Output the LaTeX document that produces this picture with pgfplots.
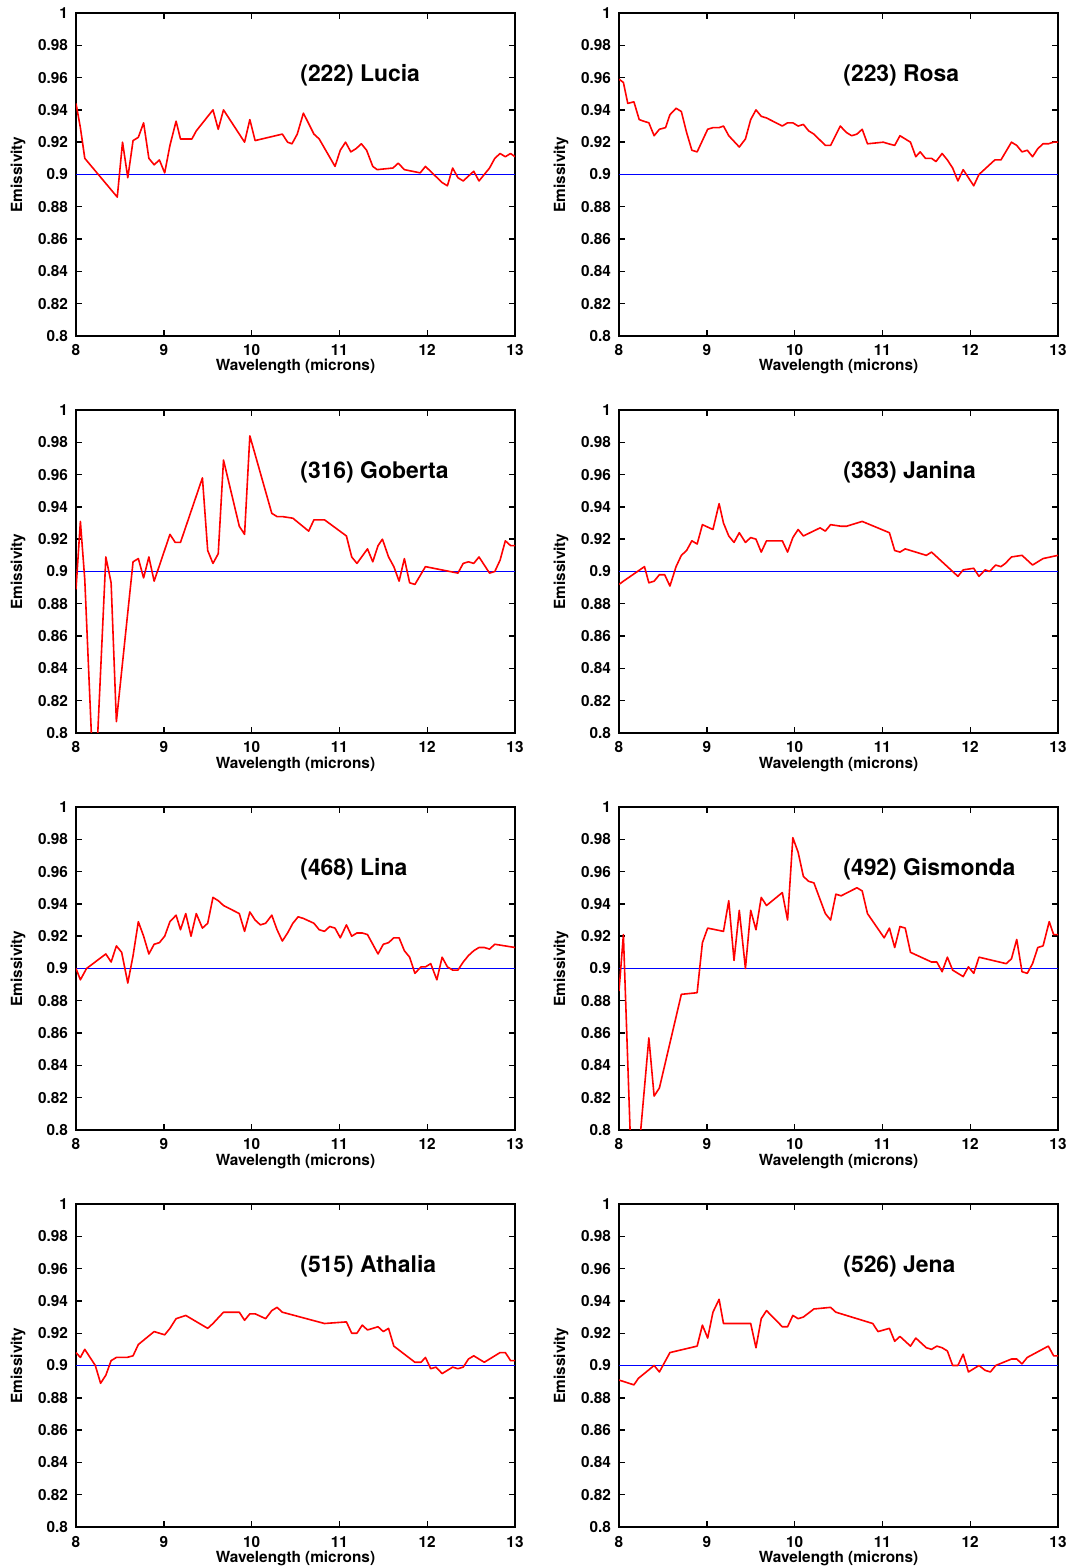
\documentclass[border=0pt]{standalone}
\usepackage{fontspec}
\setmainfont{TeX Gyre Heros}
\usepackage{pgfplots}
\pgfplotsset{compat=1.18}
\newcommand{\lblfont}{\fontsize{7.7}{9}\selectfont\bfseries}
\definecolor{refblue}{RGB}{0,0,255}
\tikzset{
  ttl/.style={anchor=west, inner sep=0pt, font=\bfseries\fontsize{11.5}{13}\selectfont},
  red line/.style={red, line width=0.8bp, line join=round},
  ref line/.style={refblue, line width=0.6bp},
}
\pgfplotsset{
  emis/.style={
    scale only axis, width=219.5bp, height=161.5bp, anchor=south west,
    xmin=8, xmax=13, ymin=0.8, ymax=1,
    xtick={8,9,10,11,12,13},
    ytick={0.8,0.82,0.84,0.86,0.88,0.9,0.92,0.94,0.96,0.98,1},
    tick align=inside, major tick length=3bp,
    axis line style={line width=1bp}, every tick/.style={black, line width=0.7bp},
    /pgf/number format/assume math mode=true,
    xticklabel style={font=\lblfont, anchor=base, yshift=-10bp},
    yticklabel style={font=\lblfont, anchor=east, xshift=-0.5bp},
    xlabel={Wavelength (microns)}, ylabel={Emissivity},
    every axis x label/.style={at={(axis description cs:0.5,-0.1084)}, anchor=base, font=\lblfont},
    every axis y label/.style={at={(axis description cs:-0.123,0.5)}, rotate=90, anchor=base, font=\lblfont},
  },
}
\begin{document}
\begin{tikzpicture}
\useasboundingbox (0,0) rectangle (537bp,784bp);
% (222) Lucia
\begin{axis}[emis, at={(38bp,616bp)}]
\addplot[ref line] coordinates {(8,0.9) (13,0.9)};
\addplot[red line] coordinates {
(8.0,0.944)(8.05,0.929)(8.10,0.910)(8.47,0.886)(8.53,0.920)(8.59,0.898)(8.65,0.921)(8.71,0.923)(8.77,0.932)(8.83,0.910)(8.89,0.906)(8.95,0.909)(9.01,0.901)(9.07,0.918)(9.14,0.933)(9.19,0.922)(9.32,0.922)(9.37,0.927)(9.56,0.940)(9.62,0.928)(9.68,0.940)(9.92,0.920)(9.98,0.934)(10.04,0.921)(10.35,0.925)(10.41,0.920)(10.46,0.919)(10.52,0.925)(10.59,0.938)(10.71,0.925)(10.77,0.922)(10.95,0.905)(11.01,0.915)(11.07,0.920)(11.13,0.914)(11.19,0.916)(11.25,0.919)(11.31,0.915)(11.38,0.905)(11.43,0.903)(11.61,0.904)(11.67,0.907)(11.74,0.903)(11.92,0.901)(11.98,0.905)(12.17,0.895)(12.23,0.893)(12.29,0.904)(12.35,0.898)(12.41,0.896)(12.53,0.902)(12.59,0.896)(12.71,0.904)(12.77,0.910)(12.83,0.913)(12.89,0.911)(12.95,0.913)(13.0,0.911)};
\node[ttl] at (axis cs:10.551,0.9616) {(222) Lucia};
\end{axis}
% (223) Rosa
\begin{axis}[emis, at={(309.5bp,616bp)}]
\addplot[ref line] coordinates {(8,0.9) (13,0.9)};
\addplot[red line] coordinates {
(8.0,0.959)(8.05,0.957)(8.10,0.944)(8.17,0.945)(8.23,0.934)(8.28,0.933)(8.34,0.932)(8.40,0.924)(8.46,0.928)(8.53,0.929)(8.58,0.937)(8.65,0.941)(8.71,0.939)(8.77,0.926)(8.83,0.915)(8.89,0.914)(8.95,0.921)(9.01,0.928)(9.07,0.929)(9.14,0.929)(9.19,0.930)(9.25,0.924)(9.37,0.917)(9.44,0.922)(9.50,0.934)(9.56,0.940)(9.62,0.936)(9.68,0.935)(9.86,0.930)(9.92,0.932)(9.98,0.932)(10.04,0.930)(10.10,0.931)(10.16,0.927)(10.22,0.925)(10.35,0.918)(10.41,0.918)(10.52,0.930)(10.59,0.926)(10.65,0.924)(10.71,0.925)(10.77,0.928)(10.83,0.919)(11.01,0.920)(11.07,0.919)(11.14,0.918)(11.20,0.924)(11.26,0.922)(11.32,0.920)(11.38,0.911)(11.43,0.914)(11.49,0.910)(11.56,0.910)(11.61,0.908)(11.68,0.913)(11.74,0.909)(11.80,0.904)(11.86,0.896)(11.92,0.903)(11.98,0.898)(12.04,0.893)(12.10,0.900)(12.28,0.909)(12.35,0.909)(12.47,0.920)(12.53,0.918)(12.59,0.914)(12.65,0.915)(12.71,0.911)(12.77,0.916)(12.83,0.919)(12.89,0.919)(12.95,0.920)(13.0,0.920)};
\node[ttl] at (axis cs:10.551,0.9616) {(223) Rosa};
\end{axis}
% (316) Goberta
\begin{axis}[emis, at={(38bp,417.5bp)}]
\addplot[ref line] coordinates {(8,0.9) (13,0.9)};
\addplot[red line] coordinates {
(8.0,0.889)(8.05,0.931)(8.10,0.895)(8.21,0.755)(8.34,0.909)(8.40,0.893)(8.46,0.807)(8.65,0.906)(8.71,0.908)(8.77,0.896)(8.83,0.909)(8.89,0.894)(9.07,0.923)(9.13,0.918)(9.19,0.918)(9.44,0.958)(9.50,0.913)(9.56,0.905)(9.62,0.911)(9.68,0.969)(9.86,0.928)(9.92,0.923)(9.98,0.984)(10.23,0.936)(10.29,0.934)(10.35,0.934)(10.47,0.933)(10.65,0.925)(10.71,0.932)(10.83,0.932)(11.08,0.922)(11.14,0.909)(11.20,0.905)(11.32,0.914)(11.38,0.906)(11.44,0.916)(11.49,0.920)(11.56,0.909)(11.62,0.903)(11.68,0.894)(11.74,0.908)(11.80,0.893)(11.86,0.892)(11.98,0.903)(12.35,0.899)(12.41,0.905)(12.47,0.906)(12.53,0.905)(12.59,0.909)(12.71,0.899)(12.77,0.900)(12.83,0.907)(12.89,0.919)(12.95,0.916)(13.0,0.916)};
\node[ttl] at (axis cs:10.551,0.9616) {(316) Goberta};
\end{axis}
% (383) Janina
\begin{axis}[emis, at={(309.5bp,417.5bp)}]
\addplot[ref line] coordinates {(8,0.9) (13,0.9)};
\addplot[red line] coordinates {
(8.0,0.892)(8.05,0.894)(8.29,0.903)(8.34,0.893)(8.40,0.894)(8.46,0.898)(8.52,0.898)(8.58,0.891)(8.65,0.903)(8.71,0.910)(8.77,0.913)(8.83,0.919)(8.89,0.917)(8.95,0.929)(9.07,0.926)(9.14,0.942)(9.19,0.930)(9.25,0.922)(9.31,0.918)(9.37,0.924)(9.44,0.918)(9.50,0.921)(9.56,0.920)(9.62,0.912)(9.68,0.919)(9.86,0.919)(9.92,0.912)(9.98,0.921)(10.04,0.926)(10.10,0.922)(10.29,0.927)(10.35,0.925)(10.41,0.929)(10.53,0.928)(10.59,0.928)(10.65,0.929)(10.77,0.931)(11.08,0.924)(11.14,0.913)(11.20,0.912)(11.26,0.914)(11.50,0.910)(11.56,0.912)(11.86,0.897)(11.92,0.901)(12.04,0.902)(12.10,0.897)(12.17,0.901)(12.22,0.900)(12.29,0.904)(12.35,0.903)(12.40,0.905)(12.47,0.909)(12.59,0.910)(12.71,0.904)(12.83,0.908)(13.0,0.910)};
\node[ttl] at (axis cs:10.551,0.9616) {(383) Janina};
\end{axis}
% (468) Lina
\begin{axis}[emis, at={(38bp,219bp)}]
\addplot[ref line] coordinates {(8,0.9) (13,0.9)};
\addplot[red line] coordinates {
(8.0,0.900)(8.05,0.893)(8.12,0.900)(8.34,0.909)(8.40,0.904)(8.46,0.914)(8.52,0.910)(8.59,0.891)(8.65,0.908)(8.71,0.929)(8.77,0.920)(8.83,0.909)(8.89,0.915)(8.95,0.916)(9.01,0.920)(9.07,0.929)(9.14,0.933)(9.19,0.924)(9.25,0.934)(9.31,0.920)(9.37,0.934)(9.44,0.925)(9.50,0.928)(9.56,0.944)(9.62,0.942)(9.68,0.939)(9.86,0.934)(9.92,0.923)(9.98,0.935)(10.04,0.930)(10.10,0.927)(10.16,0.928)(10.23,0.933)(10.29,0.924)(10.35,0.917)(10.41,0.922)(10.47,0.928)(10.53,0.932)(10.59,0.931)(10.71,0.928)(10.77,0.924)(10.83,0.923)(10.89,0.926)(10.95,0.925)(11.01,0.919)(11.08,0.927)(11.14,0.920)(11.20,0.922)(11.26,0.922)(11.32,0.921)(11.44,0.909)(11.50,0.915)(11.56,0.916)(11.62,0.919)(11.68,0.919)(11.74,0.911)(11.80,0.907)(11.86,0.897)(11.93,0.901)(11.98,0.901)(12.04,0.903)(12.11,0.893)(12.17,0.907)(12.23,0.901)(12.29,0.899)(12.35,0.899)(12.41,0.904)(12.47,0.908)(12.53,0.911)(12.59,0.913)(12.65,0.913)(12.71,0.912)(12.77,0.915)(13.0,0.913)};
\node[ttl] at (axis cs:10.551,0.9616) {(468) Lina};
\end{axis}
% (492) Gismonda
\begin{axis}[emis, at={(309.5bp,219bp)}]
\addplot[ref line] coordinates {(8,0.9) (13,0.9)};
\addplot[red line] coordinates {
(8.0,0.886)(8.05,0.921)(8.16,0.746)(8.34,0.857)(8.40,0.821)(8.46,0.826)(8.71,0.884)(8.89,0.885)(8.95,0.916)(9.01,0.925)(9.19,0.923)(9.25,0.942)(9.31,0.905)(9.37,0.936)(9.44,0.900)(9.50,0.936)(9.56,0.924)(9.62,0.944)(9.68,0.939)(9.86,0.947)(9.92,0.930)(9.98,0.981)(10.04,0.972)(10.10,0.957)(10.16,0.954)(10.22,0.953)(10.35,0.934)(10.41,0.930)(10.47,0.946)(10.53,0.945)(10.71,0.950)(10.77,0.948)(10.83,0.934)(11.02,0.919)(11.08,0.925)(11.14,0.913)(11.20,0.926)(11.26,0.925)(11.32,0.910)(11.56,0.904)(11.62,0.904)(11.68,0.898)(11.74,0.907)(11.80,0.899)(11.92,0.895)(11.98,0.901)(12.04,0.897)(12.10,0.907)(12.41,0.903)(12.47,0.906)(12.53,0.918)(12.59,0.898)(12.65,0.897)(12.71,0.903)(12.77,0.913)(12.83,0.914)(12.90,0.929)(12.95,0.921)(13.0,0.921)};
\node[ttl] at (axis cs:10.551,0.9616) {(492) Gismonda};
\end{axis}
% (515) Athalia
\begin{axis}[emis, at={(38bp,20.5bp)}]
\addplot[ref line] coordinates {(8,0.9) (13,0.9)};
\addplot[red line] coordinates {
(8.0,0.908)(8.05,0.905)(8.10,0.910)(8.22,0.900)(8.28,0.889)(8.34,0.894)(8.40,0.903)(8.46,0.905)(8.58,0.905)(8.65,0.906)(8.71,0.913)(8.89,0.921)(9.01,0.919)(9.07,0.923)(9.14,0.929)(9.25,0.931)(9.50,0.923)(9.56,0.926)(9.68,0.933)(9.86,0.933)(9.92,0.928)(9.98,0.932)(10.04,0.932)(10.16,0.929)(10.23,0.934)(10.29,0.936)(10.35,0.933)(10.83,0.926)(11.08,0.927)(11.14,0.920)(11.20,0.920)(11.26,0.925)(11.32,0.922)(11.44,0.924)(11.50,0.921)(11.56,0.923)(11.62,0.912)(11.86,0.902)(11.93,0.902)(11.98,0.905)(12.04,0.898)(12.10,0.899)(12.17,0.895)(12.29,0.899)(12.35,0.898)(12.41,0.899)(12.47,0.904)(12.53,0.906)(12.59,0.904)(12.65,0.902)(12.83,0.908)(12.89,0.908)(12.95,0.903)(13.0,0.903)};
\node[ttl] at (axis cs:10.551,0.9616) {(515) Athalia};
\end{axis}
% (526) Jena
\begin{axis}[emis, at={(309.5bp,20.5bp)}]
\addplot[ref line] coordinates {(8,0.9) (13,0.9)};
\addplot[red line] coordinates {
(8.0,0.891)(8.17,0.888)(8.22,0.892)(8.40,0.900)(8.46,0.896)(8.58,0.908)(8.89,0.912)(8.95,0.925)(9.01,0.917)(9.07,0.933)(9.14,0.941)(9.19,0.926)(9.25,0.926)(9.50,0.926)(9.56,0.911)(9.62,0.929)(9.68,0.934)(9.86,0.924)(9.92,0.924)(9.98,0.931)(10.04,0.929)(10.10,0.930)(10.22,0.935)(10.41,0.936)(10.47,0.933)(10.89,0.926)(10.95,0.921)(11.08,0.923)(11.14,0.915)(11.20,0.918)(11.32,0.912)(11.38,0.917)(11.50,0.911)(11.56,0.910)(11.62,0.912)(11.68,0.911)(11.74,0.909)(11.80,0.900)(11.86,0.900)(11.92,0.907)(11.98,0.896)(12.10,0.900)(12.17,0.897)(12.23,0.896)(12.29,0.900)(12.47,0.904)(12.53,0.904)(12.59,0.901)(12.65,0.905)(12.89,0.912)(12.95,0.906)(13.0,0.906)};
\node[ttl] at (axis cs:10.551,0.9616) {(526) Jena};
\end{axis}
\end{tikzpicture}
\end{document}
